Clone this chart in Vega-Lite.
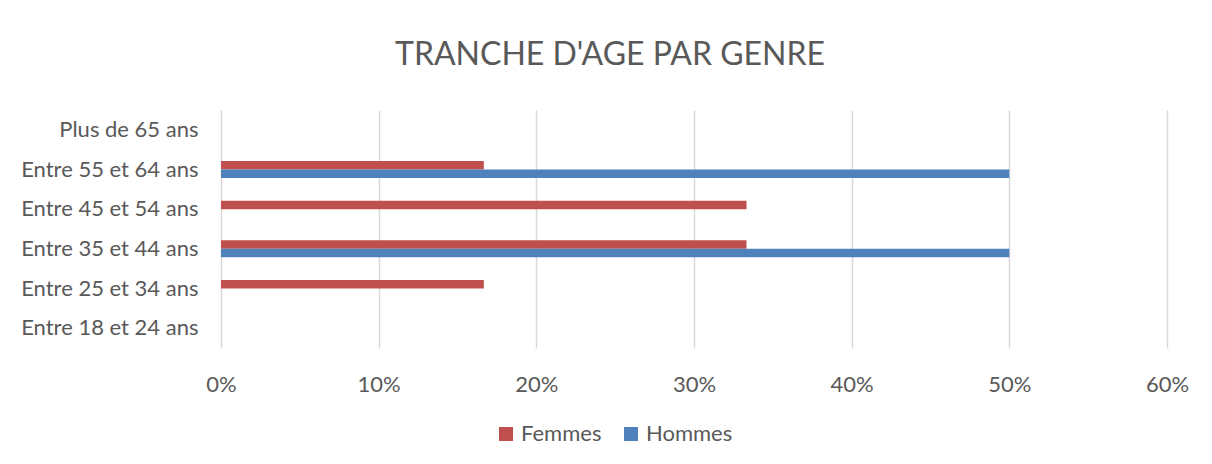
{
  "$schema": "https://vega.github.io/schema/vega-lite/v6.json",
  "width": 946,
  "height": 238,
  "autosize": {"type": "none"},
  "padding": {"left": 221, "top": 110, "right": 45, "bottom": 116},
  "background": "white",
  "config": {
    "view": {"stroke": null},
    "font": "Lato",
    "axis": {"labelColor": "#595959", "labelFont": "Lato"}
  },
  "title": {
    "text": "TRANCHE D'AGE PAR GENRE",
    "fontSize": 32,
    "font": "Lato",
    "fontWeight": "normal",
    "color": "#595959",
    "anchor": "middle",
    "offset": 38,
    "dx": -84
  },
  "data": {
    "values": [
      {"tranche": "Plus de 65 ans", "genre": "Femmes", "part": 0},
      {"tranche": "Plus de 65 ans", "genre": "Hommes", "part": 0},
      {"tranche": "Entre 55 et 64 ans", "genre": "Femmes", "part": 0.1667},
      {"tranche": "Entre 55 et 64 ans", "genre": "Hommes", "part": 0.5},
      {"tranche": "Entre 45 et 54 ans", "genre": "Femmes", "part": 0.3333},
      {"tranche": "Entre 45 et 54 ans", "genre": "Hommes", "part": 0},
      {"tranche": "Entre 35 et 44 ans", "genre": "Femmes", "part": 0.3333},
      {"tranche": "Entre 35 et 44 ans", "genre": "Hommes", "part": 0.5},
      {"tranche": "Entre 25 et 34 ans", "genre": "Femmes", "part": 0.1667},
      {"tranche": "Entre 25 et 34 ans", "genre": "Hommes", "part": 0},
      {"tranche": "Entre 18 et 24 ans", "genre": "Femmes", "part": 0},
      {"tranche": "Entre 18 et 24 ans", "genre": "Hommes", "part": 0}
    ]
  },
  "mark": {"type": "bar"},
  "encoding": {
    "y": {
      "field": "tranche",
      "type": "nominal",
      "sort": ["Plus de 65 ans", "Entre 55 et 64 ans", "Entre 45 et 54 ans", "Entre 35 et 44 ans", "Entre 25 et 34 ans", "Entre 18 et 24 ans"],
      "scale": {"paddingInner": 0.57, "paddingOuter": 0.285},
      "axis": {
        "title": null,
        "ticks": false,
        "domain": false,
        "grid": false,
        "labelFontSize": 22,
        "labelPadding": 23
      }
    },
    "yOffset": {
      "field": "genre",
      "type": "nominal",
      "sort": ["Femmes", "Hommes"],
      "scale": {"paddingInner": 0, "paddingOuter": 0}
    },
    "x": {
      "field": "part",
      "type": "quantitative",
      "scale": {"domain": [0, 0.6], "nice": false},
      "axis": {
        "title": null,
        "values": [0, 0.1, 0.2, 0.3, 0.4, 0.5, 0.6],
        "format": ".0%",
        "ticks": false,
        "domain": false,
        "grid": true,
        "gridColor": "#d9d9d9",
        "gridWidth": 1.5,
        "labelFontSize": 22,
        "labelAlign": "center",
        "labelFlush": false,
        "labelPadding": 26
      }
    },
    "color": {
      "field": "genre",
      "type": "nominal",
      "sort": ["Femmes", "Hommes"],
      "scale": {"domain": ["Femmes", "Hommes"], "range": ["#C0504D", "#4F81BD"]},
      "legend": {
        "title": null,
        "orient": "none",
        "direction": "horizontal",
        "legendX": 274,
        "legendY": 313,
        "symbolType": "square",
        "symbolSize": 196,
        "symbolStrokeWidth": 0,
        "symbolOpacity": 1,
        "labelFontSize": 22,
        "labelColor": "#595959",
        "labelFont": "Lato",
        "columnPadding": 18,
        "labelOffset": 4
      }
    }
  }
}
